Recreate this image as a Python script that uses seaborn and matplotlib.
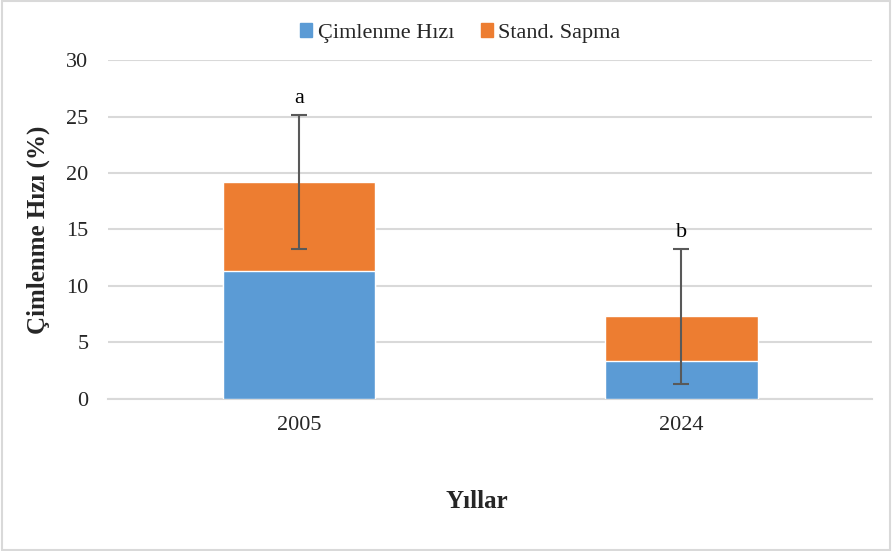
import seaborn as sns
import matplotlib.pyplot as plt
import pandas as pd
from matplotlib.patches import Patch, Rectangle

# veriler
yillar = ["2005", "2024"]
cimlenme = [11.3, 3.4]
sapma = [7.9, 3.9]
hata = [5.95, 5.95]
harfler = ["a", "b"]

mavi = "#5B9BD5"
turuncu = "#ED7D31"

sns.set_theme(style="white")
plt.rcParams['font.family'] = ['Liberation Serif', 'DejaVu Serif']

df = pd.DataFrame({"yil": yillar, "cim": cimlenme, "sapma": sapma})
df["toplam"] = df["cim"] + df["sapma"]

fig = plt.figure(figsize=(8.92, 5.51), dpi=100)
ax = fig.add_axes([0.121, 0.276, 0.857, 0.615])

# yigilmis cubuk: once toplam (turuncu), sonra alt kisim (mavi)
sns.barplot(data=df, x="yil", y="toplam", color=turuncu, width=0.4,
            saturation=1, ax=ax, zorder=2)
sns.barplot(data=df, x="yil", y="cim", color=mavi, width=0.4,
            saturation=1, ax=ax, zorder=3)

# hata cubuklari
ax.errorbar(range(len(yillar)), df["toplam"], yerr=hata, fmt="none",
            ecolor="#595959", elinewidth=1.5, capsize=6, capthick=1.5, zorder=4)

for i, h in enumerate(harfler):
    ax.text(i, df["toplam"][i] + hata[i] + 0.6, h, ha="center", va="bottom",
            fontsize=16, color="#000000")

ax.set_ylim(0, 30)
ax.set_yticks(range(0, 31, 5))
ax.set_xlim(-0.5, 1.5)
ax.yaxis.grid(True, color="#d9d9d9", linewidth=1.5, zorder=0)
ax.set_axisbelow(True)
for s in ["top", "right", "left"]:
    ax.spines[s].set_visible(False)
ax.spines["bottom"].set_color("#d9d9d9")
ax.spines["bottom"].set_linewidth(1.5)
ax.tick_params(axis="both", length=0, labelsize=16, colors="#262626")
ax.tick_params(axis="y", pad=14)
ax.tick_params(axis="x", pad=12)

ax.set_ylabel("Çimlenme Hızı (%)", fontsize=18, fontweight="bold")
ax.yaxis.set_label_coords(-0.076, 0.5)
ax.set_xlabel("Yıllar", fontsize=18, fontweight="bold")
ax.xaxis.set_label_coords(0.483, -0.268)

handles = [Patch(color=mavi, label="Çimlenme Hızı"),
           Patch(color=turuncu, label="Stand. Sapma")]
fig.legend(handles=handles, loc="center", bbox_to_anchor=(0.516, 0.94), ncol=2,
           frameon=False, fontsize=16, handlelength=0.55, handleheight=0.55,
           handletextpad=0.25, columnspacing=1.2)

# dis cerceve
fig.patches.append(Rectangle((0.002, 0.002), 0.996, 0.996, transform=fig.transFigure,
                             fill=False, edgecolor="#d9d9d9", linewidth=1.5))

fig.savefig("out.png", dpi=100)
